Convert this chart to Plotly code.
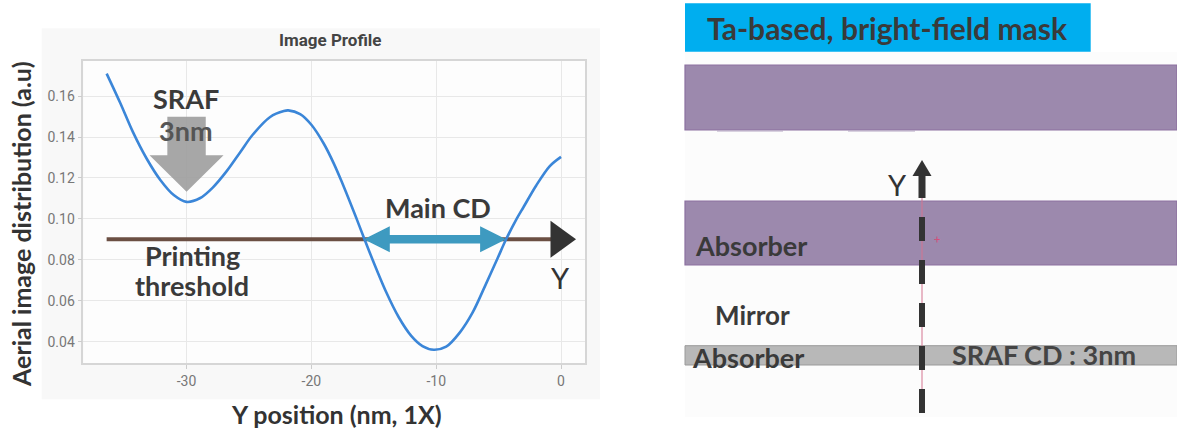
import plotly.graph_objects as go

# ---- aerial image profile ----
y_position_nm = [-36.4, -35.3, -34.3, -33.2, -32.1, -31.0, -30.0, -28.9, -27.9, -26.8,
                 -25.7, -24.7, -23.3, -22.2, -21.85, -20.9, -20.0, -19.0, -18.2, -17.6,
                 -16.4, -15.8, -15.2, -14.0, -13.0, -12.0, -11.1, -10.2, -9.2, -8.1,
                 -7.1, -6.1, -5.1, -4.4, -3.6, -3.0, -2.0, -0.9, 0.0]
aerial_intensity = [0.171, 0.1565, 0.1425, 0.1295, 0.119, 0.1115, 0.1083, 0.1102, 0.1153, 0.1232,
                    0.1326, 0.1411, 0.1498, 0.1527, 0.1530, 0.1512, 0.1460, 0.1367, 0.1270, 0.1186,
                    0.1004, 0.0909, 0.0816, 0.0641, 0.0519, 0.0428, 0.0378, 0.036, 0.0375, 0.0445,
                    0.054, 0.067, 0.0805, 0.090, 0.0995, 0.1058, 0.1162, 0.1258, 0.1303]

printing_threshold = 0.09
threshold_start = -36.4
main_cd_edges = [-15.8, -4.4]      # where the profile crosses the threshold
sraf_position = -30.0
sraf_minimum = 0.1083
axis_arrow_tip = 1.2

x_ticks = [-30, -20, -10, 0]
y_ticks = [0.04, 0.06, 0.08, 0.10, 0.12, 0.14, 0.16]

X_RANGE = [-38.27, 1.92]
Y_RANGE = [0.0294, 0.1773]

W, H = 1177, 431
PLOT_L, PLOT_R, PLOT_T, PLOT_B = 83.3, 585.0, 60.7, 363.3

PX_PER_X = (PLOT_R - PLOT_L) / (X_RANGE[1] - X_RANGE[0])
PX_PER_Y = (PLOT_B - PLOT_T) / (Y_RANGE[1] - Y_RANGE[0])


def dx(px):
    return px / PX_PER_X


def dy(px):
    return px / PX_PER_Y


def px_x(px):
    return px / W


def px_y(py):
    return 1 - py / H


def poly(points):
    return "M " + " L ".join(f"{a},{b}" for a, b in points) + " Z"


GILL = "Lato, 'Open Sans', sans-serif"
DARK = "#3a3a3a"

fig = go.Figure()

# threshold axis line
fig.add_trace(go.Scatter(
    x=[threshold_start, axis_arrow_tip - dx(25)], y=[printing_threshold, printing_threshold],
    mode="lines", line=dict(color="#6b4f43", width=4), hoverinfo="skip", showlegend=False))

# profile curve
fig.add_trace(go.Scatter(
    x=y_position_nm, y=aerial_intensity, mode="lines",
    line=dict(color="#3b86d8", width=2.6, shape="spline", smoothing=0.9),
    hoverinfo="skip", showlegend=False))

shapes = []

# chart panel + plot background
shapes.append(dict(type="rect", xref="paper", yref="paper", layer="below",
                   x0=px_x(41.7), x1=px_x(600), y0=px_y(399.3), y1=px_y(28.3),
                   fillcolor="#f8f8f8", line=dict(width=0)))
shapes.append(dict(type="rect", xref="paper", yref="paper", layer="below",
                   x0=px_x(PLOT_L), x1=px_x(PLOT_R), y0=px_y(PLOT_B), y1=px_y(PLOT_T),
                   fillcolor="#fdfdfd", line=dict(width=0)))

# black arrow head at the end of the threshold line
t = printing_threshold
shapes.append(dict(type="path", xref="x", yref="y", layer="above",
                   path=poly([(axis_arrow_tip, t),
                              (axis_arrow_tip - dx(25.5), t + dy(18.5)),
                              (axis_arrow_tip - dx(25.5), t - dy(18.5))]),
                   fillcolor="#333333", line=dict(width=0)))

# Main CD double arrow
xl, xr = main_cd_edges
hl, hh, st = dx(26), dy(13), dy(4.3)
shapes.append(dict(type="path", xref="x", yref="y", layer="above",
                   path=poly([(xl, t), (xl + hl, t + hh), (xl + hl, t + st), (xr - hl, t + st),
                              (xr - hl, t + hh), (xr, t), (xr - hl, t - hh), (xr - hl, t - st),
                              (xl + hl, t - st), (xl + hl, t - hh)]),
                   fillcolor="#3e9ac0", line=dict(width=0)))

# SRAF gray arrow pointing at the local minimum
tip_y = sraf_minimum + dy(10)
base_y = tip_y + dy(36.7)
top_y = tip_y + dy(75)
sw, hw = dx(19.2), dx(37)
shapes.append(dict(type="path", xref="x", yref="y", layer="above",
                   path=poly([(sraf_position, tip_y), (sraf_position - hw, base_y),
                              (sraf_position - sw, base_y), (sraf_position - sw, top_y),
                              (sraf_position + sw, top_y), (sraf_position + sw, base_y),
                              (sraf_position + hw, base_y)]),
                   fillcolor="rgba(155,155,155,0.88)", line=dict(width=0)))

# ---- mask cross-section diagram ----
DX0, DX1 = 685, 1177
shapes.append(dict(type="rect", xref="paper", yref="paper", layer="below",
                   x0=px_x(DX0), x1=px_x(DX1), y0=px_y(417), y1=px_y(52),
                   fillcolor="#fcfcfc", line=dict(width=0)))
shapes.append(dict(type="rect", xref="paper", yref="paper",
                   x0=px_x(DX0), x1=px_x(1090.7), y0=px_y(51.7), y1=px_y(3.3),
                   fillcolor="#00aeef", line=dict(width=0)))
for top, bot in [(65, 130), (201, 265)]:
    shapes.append(dict(type="rect", xref="paper", yref="paper",
                       x0=px_x(DX0), x1=px_x(DX1), y0=px_y(bot), y1=px_y(top),
                       fillcolor="#9c89ad", line=dict(color="#8b70a0", width=1.2)))
for a, b in [(717, 783), (848, 915)]:
    shapes.append(dict(type="line", xref="paper", yref="paper",
                       x0=px_x(a), x1=px_x(b), y0=px_y(131), y1=px_y(131),
                       line=dict(color="#b4a6c2", width=1.2)))
shapes.append(dict(type="rect", xref="paper", yref="paper",
                   x0=px_x(DX0), x1=px_x(DX1), y0=px_y(365), y1=px_y(345.7),
                   fillcolor="#b8b8b8", line=dict(color="#9a9a9a", width=1)))

# cut line through the mask
CUT_X = 922
shapes.append(dict(type="line", xref="paper", yref="paper",
                   x0=px_x(CUT_X), x1=px_x(CUT_X), y0=px_y(413), y1=px_y(198),
                   line=dict(color="#d47490", width=1)))
shapes.append(dict(type="line", xref="paper", yref="paper",
                   x0=px_x(CUT_X), x1=px_x(CUT_X), y0=px_y(217), y1=px_y(413),
                   line=dict(color="#333333", width=6, dash="24px,19px")))
# Y direction arrow
shapes.append(dict(type="line", xref="paper", yref="paper",
                   x0=px_x(CUT_X), x1=px_x(CUT_X), y0=px_y(198), y1=px_y(174),
                   line=dict(color="#333333", width=7)))
shapes.append(dict(type="path", xref="paper", yref="paper",
                   path=poly([(px_x(CUT_X), px_y(160)), (px_x(CUT_X - 9.5), px_y(176)),
                              (px_x(CUT_X + 9.5), px_y(176))]),
                   fillcolor="#333333", line=dict(width=0)))

annotations = []


def label(text, x, y, size, color=DARK, bold=True, family=GILL, xanchor="center", angle=0):
    annotations.append(dict(
        text=f"<b>{text}</b>" if bold else text, x=px_x(x), y=px_y(y),
        xref="paper", yref="paper", xanchor=xanchor, yanchor="middle",
        showarrow=False, textangle=angle,
        font=dict(family=family, size=size, color=color)))


label("Image Profile", 330, 40, 17, color="#444444", family="Roboto, Arial, sans-serif")
label("SRAF", 186, 99, 27)
label("3nm", 186, 130, 27, color="#555555")
label("Main CD", 437.5, 207, 27)
label("Printing", 192, 255, 27)
label("threshold", 192, 285, 27)
label("Y", 560, 277, 29, color="#333333", bold=False)
label("Aerial image distribution (a.u)", 21, 224, 25, color="#333333", angle=-90)
label("Y position (nm, 1X)", 336, 414, 25, color="#333333")

label("Ta-based, bright-field mask", 887.5, 28, 30)
label("Y", 897, 184, 29, color="#333333", bold=False)
label("Absorber", 693, 246, 27, xanchor="left")
label("Mirror", 713, 315, 26, xanchor="left")
label("Absorber", 690, 357, 27, xanchor="left")
label("SRAF CD : 3nm", 950, 354, 27, color="#444444", xanchor="left")
label("+", 937, 239, 11, color="#d0507a", bold=False, family="Roboto, sans-serif")

axis_common = dict(showgrid=True, gridcolor="#e8e8e8", gridwidth=1,
                   showline=True, linecolor="#d6d6d6", linewidth=1.5, mirror=True,
                   ticks="outside", ticklen=4, tickcolor="#cccccc", zeroline=False,
                   tickfont=dict(family="Roboto, Arial, sans-serif", size=14, color="#777777"))

fig.update_layout(
    width=W, height=H,
    margin=dict(l=0, r=0, t=0, b=0),
    paper_bgcolor="white", plot_bgcolor="rgba(0,0,0,0)",
    xaxis=dict(domain=[PLOT_L / W, PLOT_R / W], range=X_RANGE, tickvals=x_ticks,
               ticktext=[str(v) for v in x_ticks], **axis_common),
    yaxis=dict(domain=[1 - PLOT_B / H, 1 - PLOT_T / H], range=Y_RANGE, tickvals=y_ticks,
               tickformat=".2f", **axis_common),
    shapes=shapes, annotations=annotations, showlegend=False,
)

fig.write_html("out.html")
